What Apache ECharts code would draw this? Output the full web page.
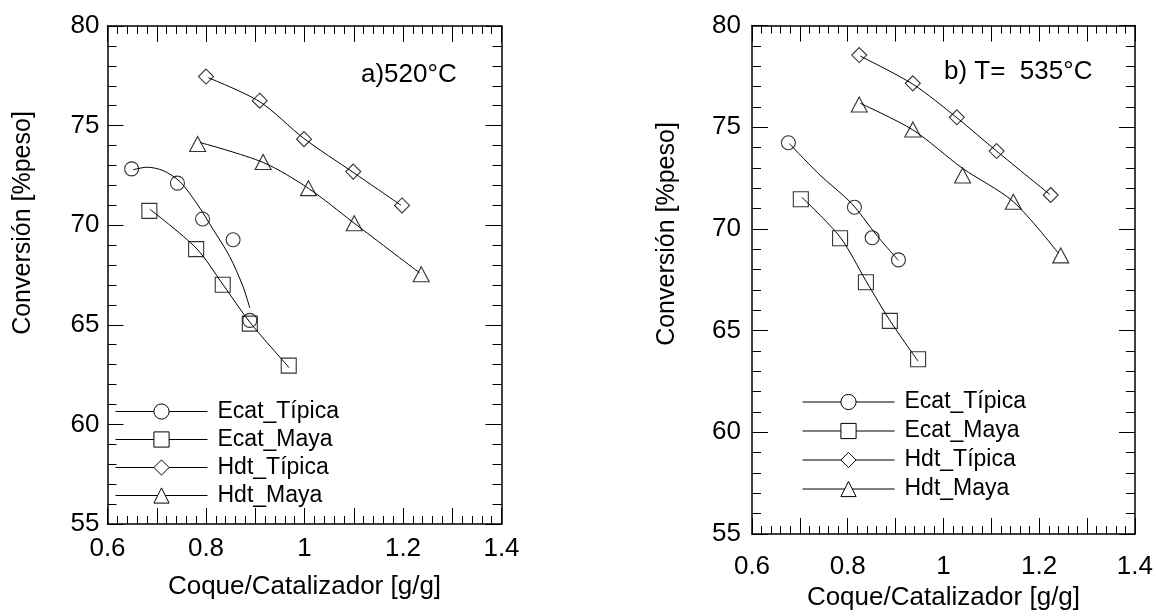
<!DOCTYPE html>
<html>
<head>
<meta charset="utf-8">
<script src="https://cdn.jsdelivr.net/npm/echarts@6/dist/echarts.min.js"></script>
<style>
  html, body { margin: 0; padding: 0; background: #fff; }
  #chart { width: 1156px; height: 616px; }
</style>
</head>
<body>
<div id="chart"></div>
<script>
const FONT = 'Liberation Sans, Arial, Helvetica, sans-serif'

const seriesNames = ['Ecat_Típica', 'Ecat_Maya', 'Hdt_Típica', 'Hdt_Maya']
const symbols = ['circle', 'rect', 'diamond', 'triangle']
const symbolSizes = [14, 15, 15, [16, 15]]

// a) 520°C : measured points and fitted curves
const ecatTipicaA = [[0.649, 72.83], [0.742, 72.11], [0.793, 70.31], [0.855, 69.27], [0.889, 65.22]]
const ecatTipicaFitA = [[0.652, 72.78], [0.680, 72.91], [0.713, 72.74], [0.747, 72.19], [0.781, 71.1], [0.815, 69.77], [0.848, 68.43], [0.875, 66.93], [0.889, 65.84]]
const ecatMayaA = [[0.685, 70.72], [0.780, 68.8], [0.834, 67.01], [0.889, 65.06], [0.968, 62.95]]
const ecatMayaFitA = [[0.686, 70.8], [0.780, 68.85], [0.835, 67.0], [0.890, 65.1], [0.969, 62.85]]
const hdtTipicaA = [[0.800, 77.46], [0.909, 76.25], [0.999, 74.32], [1.099, 72.69], [1.198, 70.99]]
const hdtTipicaFitA = [[0.805, 77.4], [0.909, 76.2], [0.999, 74.35], [1.099, 72.65], [1.196, 71.0]]
const hdtMayaA = [[0.783, 74.08], [0.916, 73.17], [1.008, 71.86], [1.101, 70.1], [1.237, 67.54]]
const hdtMayaFitA = [[0.788, 74.15], [0.916, 73.15], [1.008, 71.85], [1.101, 70.1], [1.234, 67.6]]

// b) T= 535°C
const ecatTipicaB = [[0.676, 74.24], [0.814, 71.07], [0.851, 69.57], [0.906, 68.48]]
const ecatTipicaFitB = [[0.678, 74.2], [0.742, 72.65], [0.808, 71.26], [0.860, 69.7], [0.906, 68.45]]
const ecatMayaB = [[0.702, 71.46], [0.784, 69.54], [0.838, 67.38], [0.888, 65.48], [0.947, 63.59]]
const ecatMayaFitB = [[0.704, 71.56], [0.784, 69.6], [0.838, 67.45], [0.888, 65.5], [0.947, 63.5]]
const hdtTipicaB = [[0.824, 78.55], [0.936, 77.16], [1.028, 75.49], [1.111, 73.83], [1.224, 71.67]]
const hdtTipicaFitB = [[0.826, 78.5], [0.936, 77.12], [1.028, 75.47], [1.111, 73.83], [1.222, 71.7]]
const hdtMayaB = [[0.824, 76.12], [0.936, 74.89], [1.040, 72.63], [1.146, 71.34], [1.245, 68.70]]
const hdtMayaFitB = [[0.826, 76.18], [0.936, 74.87], [1.040, 72.98], [1.146, 71.34], [1.240, 68.81]]

const pointsA = [ecatTipicaA, ecatMayaA, hdtTipicaA, hdtMayaA]
const fitsA = [ecatTipicaFitA, ecatMayaFitA, hdtTipicaFitA, hdtMayaFitA]
const pointsB = [ecatTipicaB, ecatMayaB, hdtTipicaB, hdtMayaB]
const fitsB = [ecatTipicaFitB, ecatMayaFitB, hdtTipicaFitB, hdtMayaFitB]

const xLabel = 'Coque/Catalizador [g/g]'
const yLabel = 'Conversión [%peso]'

const chart = echarts.init(document.getElementById('chart'))

function xLabelFmt (v) {
  const k = Math.round(v * 10)
  return k % 2 ? '' : String(+(k / 10).toFixed(1))
}

function xAxes (gridIndex, margin) {
  const base = {
    gridIndex,
    type: 'value',
    min: 0.6,
    max: 1.4,
    interval: 0.1,
    axisLine: { show: true, onZero: false, lineStyle: { color: '#000', width: 1.5 } },
    axisTick: { show: true, inside: true, length: 16, lineStyle: { color: '#000', width: 1 } },
    minorTick: { show: true, splitNumber: 5, length: 8, lineStyle: { color: '#000', width: 1 } },
    splitLine: { show: false },
  }
  return [
    Object.assign({}, base, {
      position: 'bottom',
      axisLabel: { margin, color: '#000', fontSize: 26, fontFamily: FONT, formatter: xLabelFmt },
      name: xLabel,
      nameLocation: 'middle',
      nameGap: 50,
      nameTextStyle: { color: '#000', fontSize: 26, fontFamily: FONT },
    }),
    Object.assign({}, base, { position: 'top', axisLabel: { show: false } }),
  ]
}

function yAxes (gridIndex, margin) {
  const base = {
    gridIndex,
    type: 'value',
    min: 55,
    max: 80,
    interval: 5,
    axisLine: { show: true, onZero: false, lineStyle: { color: '#000', width: 1.5 } },
    axisTick: { show: true, inside: true, length: 16, lineStyle: { color: '#000', width: 1 } },
    minorTick: { show: true, splitNumber: 5, length: 9, lineStyle: { color: '#000', width: 1 } },
    splitLine: { show: false },
  }
  return [
    Object.assign({}, base, {
      position: 'left',
      axisLabel: { margin, color: '#000', fontSize: 26, fontFamily: FONT },
    }),
    Object.assign({}, base, { position: 'right', axisLabel: { show: false } }),
  ]
}

function panelSeries (axisOffset, fits, points) {
  const out = []
  seriesNames.forEach((name, i) => {
    out.push({
      name,
      type: 'line',
      xAxisIndex: axisOffset,
      yAxisIndex: axisOffset,
      data: fits[i],
      smooth: 0.3,
      showSymbol: false,
      symbol: symbols[i],
      itemStyle: { color: '#fff', borderColor: '#000', borderWidth: 1 },
      lineStyle: { color: '#000', width: 1 },
      z: 2,
      silent: true,
    })
  })
  seriesNames.forEach((name, i) => {
    out.push({
      name,
      type: 'scatter',
      xAxisIndex: axisOffset,
      yAxisIndex: axisOffset,
      data: points[i],
      symbol: symbols[i],
      symbolSize: symbolSizes[i],
      itemStyle: { color: 'rgba(0,0,0,0)', borderColor: '#000', borderWidth: 1.1 },
      z: 3,
      silent: true,
    })
  })
  return out
}

function legendFor (left, top, gap) {
  return {
    data: seriesNames,
    orient: 'vertical',
    left,
    top,
    padding: 0,
    itemWidth: 92,
    itemHeight: 19,
    itemGap: gap,
    selectedMode: false,
    lineStyle: { width: 1, color: '#000' },
    itemStyle: { borderWidth: 1, borderColor: '#000', color: '#fff' },
    textStyle: { color: '#000', fontSize: 23, fontFamily: FONT, padding: [0, 0, 0, 5] },
  }
}

const option = {
  animation: false,
  backgroundColor: '#fff',
  grid: [
    { left: 107.5, right: 654.5, top: 26, bottom: 92 },
    { left: 752, right: 21, top: 25.6, bottom: 82 },
  ],
  title: [
    { text: 'a)520°C', left: 361, top: 62, padding: 0, textStyle: { color: '#000', fontSize: 26, fontWeight: 'normal', fontFamily: FONT } },
    { text: 'b) T=  535°C', left: 944, top: 59, padding: 0, textStyle: { color: '#000', fontSize: 26, fontWeight: 'normal', fontFamily: FONT } },
  ],
  legend: [legendFor(115, 400, 5), legendFor(802, 390.5, 6)],
  xAxis: xAxes(0, 12).concat(xAxes(1, 20)),
  yAxis: yAxes(0, 8).concat(yAxes(1, 11)),
  graphic: [
    { type: 'text', x: 23, y: 223, rotation: Math.PI / 2,
      style: { text: yLabel, font: '25px ' + FONT, fill: '#000', textAlign: 'center', textVerticalAlign: 'middle', align: 'center', verticalAlign: 'middle' } },
    { type: 'text', x: 667, y: 234, rotation: Math.PI / 2,
      style: { text: yLabel, font: '25px ' + FONT, fill: '#000', textAlign: 'center', textVerticalAlign: 'middle', align: 'center', verticalAlign: 'middle' } },
  ],
  series: panelSeries(0, fitsA, pointsA).concat(panelSeries(2, fitsB, pointsB)),
}

chart.setOption(option)
</script>
</body>
</html>
